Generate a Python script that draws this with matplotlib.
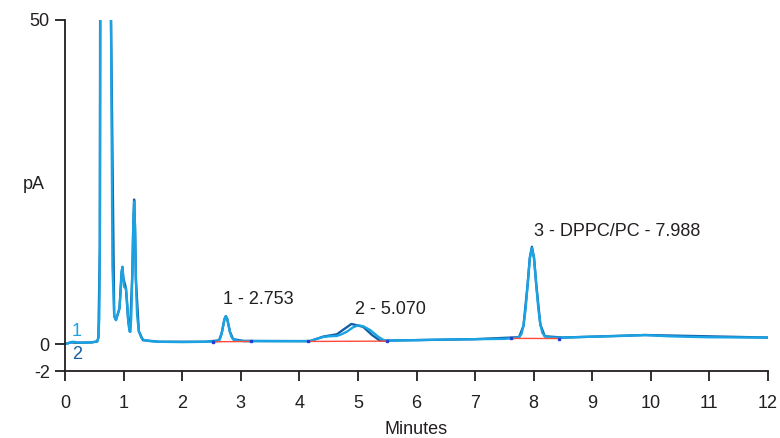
import numpy as np
import matplotlib
matplotlib.use('Agg')
import matplotlib.pyplot as plt

plt.rcParams['font.family'] = ['Liberation Sans', 'DejaVu Sans']

# trace 1 (light blue), time in minutes and signal in pA
t1 = [0.0, 0.05, 0.1, 0.15, 0.2, 0.3, 0.45, 0.55, 0.57, 0.585, 0.595, 0.605, 0.62, 0.66,
      0.72, 0.76, 0.785, 0.81, 0.84, 0.87, 0.9, 0.93, 0.95, 0.965, 0.98, 0.995, 1.01,
      1.04, 1.06, 1.08, 1.1, 1.115, 1.13, 1.15, 1.165, 1.18, 1.195, 1.21, 1.23, 1.26,
      1.3, 1.35, 1.45, 1.6, 2.0, 2.4, 2.55, 2.6, 2.63, 2.651, 2.675, 2.698, 2.722, 2.745,
      2.768, 2.792, 2.815, 2.839, 2.87, 2.91, 2.96, 3.05, 3.5, 4.0, 4.18, 4.3, 4.41, 4.52,
      4.64, 4.72, 4.81, 4.92, 5.01, 5.1, 5.21, 5.35, 5.46, 5.6, 6.0, 6.5, 7.0, 7.5, 7.7,
      7.75, 7.79, 7.826, 7.862, 7.898, 7.934, 7.97, 8.006, 8.042, 8.078, 8.114, 8.15,
      8.19, 8.25, 8.35, 8.5, 9.0, 9.5, 9.9, 10.3, 10.7, 11.0, 11.5, 12.0]
y1 = [0.0, 0.1, 0.3, 0.35, 0.25, 0.2, 0.25, 0.4, 1.0, 4.0, 15.0, 60.0, 200.0, 400.0,
      300.0, 120.0, 50.0, 12.0, 4.3, 3.7, 4.6, 5.5, 8.0, 11.0, 11.9, 10.2, 8.8,
      8.6, 6.5, 3.5, 2.0, 1.9, 4.0, 11.0, 18.0, 22.0, 18.0, 10.0, 4.5, 2.0,
      1.0, 0.6, 0.45, 0.35, 0.3, 0.35, 0.4, 0.44, 0.57, 0.93, 1.67, 2.77, 3.84, 4.3,
      3.9, 2.95, 1.9, 1.15, 0.75, 0.58, 0.5, 0.47, 0.45, 0.45, 0.45, 0.8, 1.1, 1.2,
      1.25, 1.5, 1.9, 2.6, 2.9, 2.7, 2.15, 1.1, 0.5, 0.55, 0.6, 0.7, 0.75, 0.8, 0.95,
      1.05, 1.5, 2.8, 5.4, 9.3, 13.2, 14.8, 13.2, 9.4, 5.6, 3.0, 1.7,
      1.2, 1.05, 1.0, 1.0, 1.13, 1.25, 1.39, 1.2, 1.1, 1.05, 1.02, 1.0]

# trace 2 (dark blue), only differs visibly around the peaks
t2 = [0.0, 0.1, 0.2, 0.45, 0.55, 0.57, 0.595, 0.62, 0.72, 0.785, 0.84, 0.87, 0.93, 0.965,
      0.98, 0.995, 1.04, 1.08, 1.11, 1.15, 1.165, 1.18, 1.195, 1.21, 1.26, 1.33, 1.6,
      2.4, 2.63, 2.675, 2.722, 2.745, 2.768, 2.815, 2.87, 3.05, 4.0, 4.18, 4.41, 4.64,
      4.74, 4.89, 5.09, 5.24, 5.38, 5.6, 7.0, 7.75, 7.826, 7.898, 7.934, 7.97, 8.006,
      8.042, 8.114, 8.19, 8.5, 9.9, 12.0]
y2 = [0.0, 0.25, 0.2, 0.25, 0.4, 1.0, 15.0, 200.0, 300.0, 50.0, 4.3, 3.7, 5.5, 11.0,
      11.9, 10.2, 8.6, 3.5, 1.9, 11.0, 18.2, 22.3, 18.0, 10.0, 2.0, 0.6, 0.35,
      0.35, 0.57, 1.67, 3.84, 4.3, 3.9, 1.9, 0.75, 0.47, 0.45, 0.45, 1.15, 1.5,
      2.15, 3.1, 2.65, 1.4, 0.5, 0.55, 0.75, 1.05, 2.8, 9.3, 13.3, 15.0, 13.3,
      9.4, 3.0, 1.2, 1.0, 1.39, 1.0]

# integration baselines: (start time, start pA, end time, end pA)
base_t0 = [2.53, 4.15, 7.61]
base_y0 = [0.35, 0.4, 0.87]
base_t1 = [3.17, 5.49, 8.43]
base_y1 = [0.4, 0.45, 0.85]

peak_labels = ['1 - 2.753', '2 - 5.070', '3 - DPPC/PC - 7.988']
label_x = [3.30, 5.56, 9.43]
label_y = [6.9, 5.4, 17.4]

light_blue = '#1aa3e3'
dark_blue = '#125fa6'
text_color = '#231f20'


# the scale below zero is drawn about twice as tall as above it
def fwd(v):
    v = np.asarray(v, dtype=float)
    return np.where(v < 0, v * 2.08, v)


def inv(u):
    u = np.asarray(u, dtype=float)
    return np.where(u < 0, u / 2.08, u)


fig = plt.figure(figsize=(7.8, 4.38), dpi=100)
ax = fig.add_axes([65 / 780, 67 / 438, 703 / 780, 351 / 438])
ax.set_yscale('function', functions=(fwd, inv))

ax.plot(t2, y2, color=dark_blue, lw=1.7, solid_joinstyle='round')
ax.plot(t1, y1, color=light_blue, lw=1.7, solid_joinstyle='round')

for a, b, c, d in zip(base_t0, base_y0, base_t1, base_y1):
    ax.plot([a, c], [b, d], color='#ff4a3a', lw=1.0)
    ax.plot([a, c], [b, d], ls='none', marker='s', ms=1.8, color='#2040d0')

for lab, x, y in zip(peak_labels, label_x, label_y):
    ax.text(x, y, lab, ha='center', va='center', fontsize=13, color=text_color)

ax.text(0.19, 2.0, '1', color=light_blue, fontsize=13, ha='center', va='center')
ax.text(0.2, -0.74, '2', color=dark_blue, fontsize=13, ha='center', va='center')

ax.set_xlim(0, 12)
ax.set_ylim(-2, 50)
ax.set_xticks(range(0, 13))
ax.set_yticks([-2, 0, 50])
ax.set_yticklabels(['-2', '0', '50'])
ax.tick_params(direction='out', length=7, width=1.3, labelsize=13, colors=text_color)
ax.tick_params(axis='x', pad=10)
ax.tick_params(axis='y', pad=4)
for side in ['top', 'right']:
    ax.spines[side].set_visible(False)
for side in ['left', 'bottom']:
    ax.spines[side].set_linewidth(1.3)
    ax.spines[side].set_color(text_color)

ax.set_xlabel('Minutes', fontsize=13, color=text_color, labelpad=7)
ax.text(-0.044, 24.6, 'pA', transform=ax.get_yaxis_transform(), fontsize=13,
        ha='center', va='center', color=text_color)

fig.savefig('out.png', dpi=100)
